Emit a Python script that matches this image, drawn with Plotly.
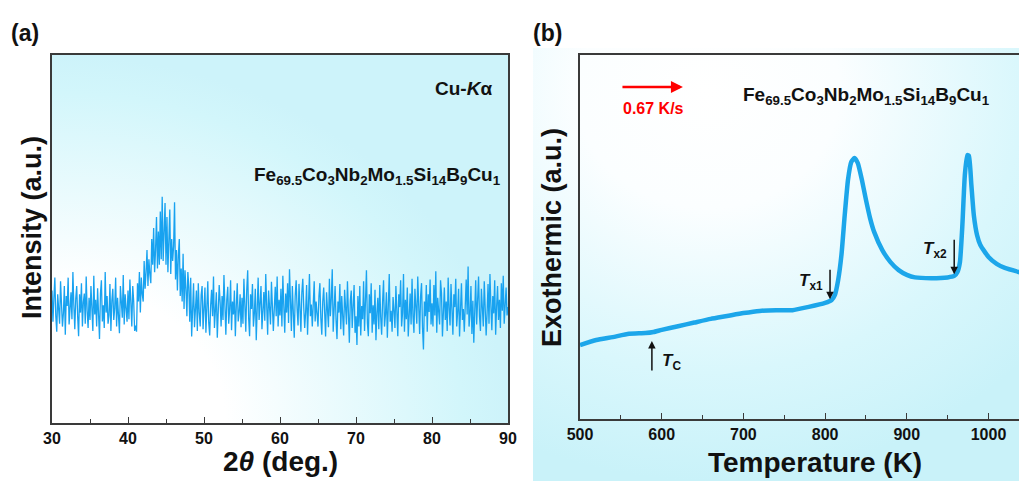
import base64
import plotly.graph_objects as go

W, H = 1019, 481

# ---------------- Panel (a): XRD data (2theta from 30 deg, 0.125 deg step) ----------------
xrd_start, xrd_step = 30.0, 0.125
xrd_intensity = [
    # 30.000 - 34.875
    360, 275, 340, 395, 290, 248, 350, 310, 270, 385, 330, 262, 298, 372, 240, 345, 318, 395, 268, 300,
    355, 282, 410, 320, 255, 338, 372, 290, 236, 350, 300, 380, 262, 328, 352, 270, 398, 305, 258, 340,
    # 35.000 - 39.875
    280, 372, 318, 250, 400, 295, 335, 262, 366, 305, 228, 352, 388, 276, 320, 258, 410, 300, 345, 270,
    292, 378, 250, 332, 365, 280, 312, 395, 262, 340, 300, 244, 372, 326, 286, 402, 268, 350, 310, 275,
    # 40.000 - 44.875
    360, 282, 390, 300, 262, 372, 330, 250,
    265, 248, 380, 330, 410, 300, 395, 350,
    330, 440, 365, 410, 470, 372, 445, 405,
    380, 500, 430, 530, 410, 470, 560, 420,
    520, 430, 575, 445, 615, 440, 540, 598,
    # 45.000 - 49.875
    430, 560, 410, 520, 580, 405, 500, 440,
    480, 600, 390, 470, 360, 455, 500, 345,
    420, 330, 460, 310, 415, 365, 290, 410,
    370, 275, 395, 235, 350, 380, 260, 335,
    360, 250, 380, 300, 262, 348, 372, 255,
    # 50.000 - 54.875
    300, 368, 245, 330, 385, 272, 238, 320, 362, 290, 398, 258, 312, 355, 232, 295, 375, 328, 262, 345,
    280, 402, 305, 240, 336, 370, 270, 310, 388, 252, 330, 295, 360, 236, 318, 380, 276, 300, 350, 260,
    # 55.000 - 59.875
    340, 270, 392, 300, 248, 362, 415, 285, 236, 350, 310, 378, 262, 298, 365, 225, 322, 395, 280, 318,
    372, 255, 305, 356, 278, 405, 320, 240, 360, 295, 268, 384, 330, 250, 312, 370, 290, 398, 262, 335,
    # 60.000 - 64.875
    292, 365, 262, 400, 318, 245, 352, 300, 380, 272, 418, 330, 250, 372, 298, 232, 345, 388, 310, 265,
    378, 285, 248, 355, 392, 315, 258, 302, 375, 240, 335, 405, 290, 322, 262, 360, 385, 276, 330, 298,
    # 65.000 - 69.875
    262, 345, 380, 285, 240, 330, 368, 300, 235, 355, 312, 260, 392, 290, 338, 418, 248, 318, 372, 280,
    228, 330, 300, 378, 255, 345, 285, 238, 362, 310, 268, 385, 300, 218, 332, 360, 258, 312, 375, 245,
    # 70.000 - 74.875
    290, 212, 345, 262, 372, 238, 318, 282, 385, 250, 330, 415, 272, 236, 350, 298, 380, 245, 320, 268,
    362, 225, 300, 340, 255, 375, 288, 240, 330, 388, 262, 295, 355, 232, 318, 405, 275, 305, 248, 342,
    # 75.000 - 79.875
    305, 258, 372, 285, 236, 350, 315, 388, 262, 300, 405, 248, 335, 282, 368, 235, 318, 352, 268, 392,
    290, 245, 365, 312, 270, 398, 300, 242, 345, 380, 260, 200, 330, 290, 375, 248, 350, 302, 390, 268,
    # 80.000 - 84.875
    325, 262, 375, 292, 412, 245, 340, 305, 268, 388, 352, 235, 300, 368, 280, 330, 250, 395, 312, 265,
    378, 290, 240, 350, 315, 392, 262, 302, 365, 235, 328, 380, 280, 310, 248, 355, 390, 295, 425, 262,
    # 85.000 - 89.875
    295, 372, 242, 332, 218, 305, 388, 268, 340, 398, 290, 250, 365, 312, 262, 385, 325, 238, 300, 378,
    270, 405, 318, 252, 345, 298, 388, 240, 315, 372, 280, 335, 258, 380, 305, 400, 270, 330, 368, 292,
    # 90.000
    315,
]
xrd_xticks = [30, 40, 50, 60, 70, 80, 90]

# ---------------- Panel (b): DSC data ----------------
dsc_temperature = [500, 520, 540, 560, 580, 590, 600, 620, 640, 660, 680, 700, 720, 740, 760, 780,
                   800, 808, 812, 816, 820, 824, 828, 832, 836, 840, 845, 850, 855, 860, 870, 880,
                   890, 900, 910, 930, 950, 958, 962, 965, 968, 971, 974, 976, 979, 982, 986, 990,
                   1000, 1010, 1020, 1040]
dsc_heatflow = [20.3, 21.7, 22.5, 23.4, 23.6, 23.9, 24.5, 25.5, 26.5, 27.5, 28.3, 29.1, 29.7, 29.9,
                29.9, 30.8, 31.9, 32.7, 34.1, 38.2, 45.1, 56.0, 65.7, 70.6, 71.7, 70.3, 65.7, 60.2,
                55.2, 51.4, 46.4, 43.1, 40.9, 39.6, 38.9, 38.7, 38.9, 39.3, 40.4, 43.1, 53.3, 67.0,
                72.5, 72.3, 64.3, 56.0, 50.5, 47.8, 44.5, 42.6, 41.5, 40.2]
dsc_xticks = [500, 600, 700, 800, 900, 1000]

xrd_two_theta = [xrd_start + xrd_step * i for i in range(len(xrd_intensity))]

FONT = "Arial, Liberation Sans, sans-serif"
AXC = "#3a3a3a"


def px_x(p):
    return p / W


def px_y(p):
    return 1 - p / H


def svg_uri(svg):
    return "data:image/svg+xml;base64," + base64.b64encode(svg.encode()).decode()


bg_a = svg_uri(
    '<svg xmlns="http://www.w3.org/2000/svg" width="456" height="368" viewBox="0 0 456 368" '
    'preserveAspectRatio="none"><defs><radialGradient id="g" cx="0" cy="1" r="1" fx="0" fy="1">'
    '<stop offset="0" stop-color="#ffffff"/><stop offset="0.38" stop-color="#ffffff"/>'
    '<stop offset="0.9" stop-color="#d2f6fb"/><stop offset="1" stop-color="#cdf3fa"/>'
    '</radialGradient></defs><rect width="456" height="368" fill="url(#g)"/></svg>'
)
bg_b = svg_uri(
    '<svg xmlns="http://www.w3.org/2000/svg" width="486" height="433" viewBox="0 0 486 433" '
    'preserveAspectRatio="none"><defs><radialGradient id="g" cx="0.36" cy="0.1" r="0.9" fx="0.36" fy="0.1">'
    '<stop offset="0" stop-color="#ffffff"/><stop offset="0.3" stop-color="#fbfeff"/>'
    '<stop offset="0.72" stop-color="#d9f7fc"/><stop offset="1" stop-color="#c9f2f9"/>'
    '</radialGradient></defs><rect width="486" height="433" fill="url(#g)"/></svg>'
)

fig = go.Figure()
fig.add_trace(go.Scatter(x=xrd_two_theta, y=xrd_intensity, mode="lines",
                         line=dict(color="#18a2f0", width=1.3), xaxis="x", yaxis="y",
                         showlegend=False, hoverinfo="skip"))
fig.add_trace(go.Scatter(x=dsc_temperature, y=dsc_heatflow, mode="lines",
                         line=dict(color="#1ca6ea", width=4.5, shape="spline", smoothing=0.5),
                         xaxis="x2", yaxis="y2", showlegend=False, hoverinfo="skip"))

axis_common = dict(showline=True, linecolor=AXC, linewidth=1.6, mirror=True, showgrid=False,
                   zeroline=False, ticks="inside", tickcolor=AXC, tickwidth=1.4, ticklen=6,
                   automargin=False,
                   tickfont=dict(family=FONT, size=16, color="#111", weight="bold"))

fig.update_layout(
    width=W, height=H, margin=dict(l=0, r=0, t=0, b=0, pad=0, autoexpand=False),
    paper_bgcolor="white", plot_bgcolor="rgba(0,0,0,0)",
    xaxis=dict(domain=[px_x(52), px_x(508)], range=[30, 90], tickvals=xrd_xticks,
               minor=dict(ticks="inside", dtick=5, ticklen=4, tickcolor=AXC, tickwidth=1.2),
               anchor="y", **axis_common),
    yaxis=dict(domain=[px_y(423), px_y(55)], range=[0, 1000], showticklabels=False,
               anchor="x", **{**axis_common, "ticks": ""}),
    xaxis2=dict(domain=[px_x(580), 1.0], range=[500, 1037.3], tickvals=dsc_xticks,
                minor=dict(ticks="inside", dtick=50, ticklen=4, tickcolor=AXC, tickwidth=1.2),
                anchor="y2", **axis_common),
    yaxis2=dict(domain=[px_y(419), px_y(55)], range=[0, 100], showticklabels=False,
                anchor="x2", **{**axis_common, "ticks": "", "mirror": False}),
    images=[
        dict(source=bg_a, xref="paper", yref="paper", x=px_x(52), y=px_y(55),
             sizex=456 / W, sizey=368 / H, sizing="stretch", layer="below", xanchor="left", yanchor="top"),
        dict(source=bg_b, xref="paper", yref="paper", x=px_x(533), y=px_y(48),
             sizex=486 / W, sizey=433 / H, sizing="stretch", layer="below", xanchor="left", yanchor="top"),
    ],
)

ann = []


def txt(x, y, text, size, color="#111", xanchor="center", angle=0, xref="paper", yref="paper"):
    ann.append(dict(x=x, y=y, xref=xref, yref=yref, text=text, showarrow=False, xanchor=xanchor,
                    yanchor="middle", textangle=angle,
                    font=dict(family=FONT, size=size, color=color, weight="bold")))


# panel labels
txt(px_x(25), px_y(33), "(a)", 23)
txt(px_x(547), px_y(33), "(b)", 23)
# axis titles
txt(px_x(32), px_y(228), "Intensity (a.u.)", 27, angle=-90)
txt(px_x(280), px_y(461), "2<i>θ</i> (deg.)", 28)
txt(px_x(552), px_y(238), "Exothermic (a.u.)", 27, angle=-90)
txt(px_x(815), px_y(462), "Temperature (K)", 28)
# panel (a) texts
txt(px_x(494), px_y(89), "Cu-<i>K</i>α", 19, xanchor="right")
formula = "Fe<sub>69.5</sub>Co<sub>3</sub>Nb<sub>2</sub>Mo<sub>1.5</sub>Si<sub>14</sub>B<sub>9</sub>Cu<sub>1</sub>"
txt(px_x(503), px_y(176), formula, 19, xanchor="right")
# panel (b) texts
txt(px_x(741), px_y(96), formula, 19, xanchor="left")
txt(px_x(653), px_y(108), "0.67 K/s", 16, color="#ff0000")
txt(612, 15.7, "<i>T</i><sub>C</sub>", 17, xref="x2", yref="y2")
txt(783, 37.6, "<i>T</i><sub>x1</sub>", 17, xref="x2", yref="y2")
txt(934, 46.4, "<i>T</i><sub>x2</sub>", 17, xref="x2", yref="y2")

# arrows
arrow_common = dict(xref="x2", yref="y2", showarrow=True, text="", arrowhead=2, arrowsize=1,
                    axref="pixel", ayref="pixel")
ann.append(dict(x=626, y=91.2, ax=-62, ay=0, arrowcolor="#ff0000", arrowwidth=2.4, **arrow_common))
ann.append(dict(x=588, y=21.4, ax=0, ay=31, arrowcolor="#111", arrowwidth=1.5, **arrow_common))
ann.append(dict(x=806, y=32.9, ax=0, ay=-31, arrowcolor="#111", arrowwidth=1.5, **arrow_common))
ann.append(dict(x=958, y=39.8, ax=0, ay=-36, arrowcolor="#111", arrowwidth=1.5, **arrow_common))

fig.update_layout(annotations=ann)
fig.write_html("out.html")
